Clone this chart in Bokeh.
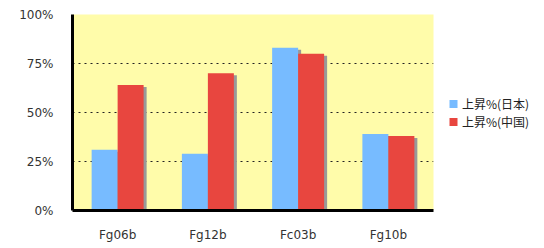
from bokeh.plotting import figure
from bokeh.models import ColumnDataSource, FixedTicker, NumeralTickFormatter, Legend, LegendItem, Range1d
from bokeh.transform import dodge
from bokeh.embed import file_html
from bokeh.resources import INLINE

categories = ["Fg06b", "Fg12b", "Fc03b", "Fg10b"]
japan = [0.31, 0.29, 0.83, 0.39]
china = [0.64, 0.70, 0.80, 0.38]
series_names = ["上昇%(日本)", "上昇%(中国)"]
y_ticks = [0, 0.25, 0.5, 0.75, 1.0]

BLUE = "#77bbff"
RED = "#e8463f"
SHADOW = "#999999"
YELLOW = "#fffcaa"

src = ColumnDataSource(dict(
    cat=categories,
    japan=japan,
    china=china,
    japan_sh=[v - 0.01 for v in japan],
    china_sh=[v - 0.01 for v in china],
))

p = figure(x_range=categories, y_range=Range1d(0, 1),
           frame_width=361, frame_height=196,
           output_backend="svg", toolbar_location=None,
           min_border_left=72, min_border_right=0, min_border_top=14, min_border_bottom=30)
p.x_range.range_padding = 0
p.border_fill_color = "white"
p.outline_line_color = None
p.background_fill_color = YELLOW

bw = 0.288
sx = 3 / 90.25
sh_b = p.vbar(x=dodge("cat", -bw / 2 + sx, range=p.x_range), top="japan_sh", bottom=-0.02, width=bw,
              source=src, fill_color=SHADOW, line_color=None)
b = p.vbar(x=dodge("cat", -bw / 2, range=p.x_range), top="japan", bottom=0, width=bw,
           source=src, fill_color=BLUE, line_color=None)
sh_r = p.vbar(x=dodge("cat", bw / 2 + sx, range=p.x_range), top="china_sh", bottom=-0.02, width=bw,
              source=src, fill_color=SHADOW, line_color=None)
r = p.vbar(x=dodge("cat", bw / 2, range=p.x_range), top="china", bottom=0, width=bw,
           source=src, fill_color=RED, line_color=None)

p.xgrid.grid_line_color = None
p.ygrid.ticker = FixedTicker(ticks=y_ticks)
p.ygrid.grid_line_color = "#222222"
p.ygrid.grid_line_dash = "2 4"
p.ygrid.grid_line_width = 1

p.yaxis.ticker = FixedTicker(ticks=y_ticks)
p.yaxis.formatter = NumeralTickFormatter(format="0%")
for ax in (p.xaxis, p.yaxis):
    ax.axis_line_width = 3
    ax.axis_line_color = "black"
    ax.major_tick_line_color = None
    ax.minor_tick_line_color = None
    ax.major_label_text_font = "DejaVu Sans"
    ax.major_label_text_font_size = "12px"
    ax.major_label_text_color = "#333333"
p.yaxis.major_label_standoff = 13
p.xaxis.major_label_standoff = 11

legend = Legend(items=[LegendItem(label=series_names[0], renderers=[b]),
                       LegendItem(label=series_names[1], renderers=[r])],
                location="left", orientation="vertical", padding=0, margin=15, spacing=1,
                glyph_width=10, glyph_height=10, label_height=10, label_standoff=4,
                label_text_font="Noto Sans CJK JP", label_text_font_size="12px",
                label_text_color="#222222", border_line_color=None,
                background_fill_alpha=0)
p.add_layout(legend, "right")

open("out.html", "w").write(file_html(p, INLINE))
